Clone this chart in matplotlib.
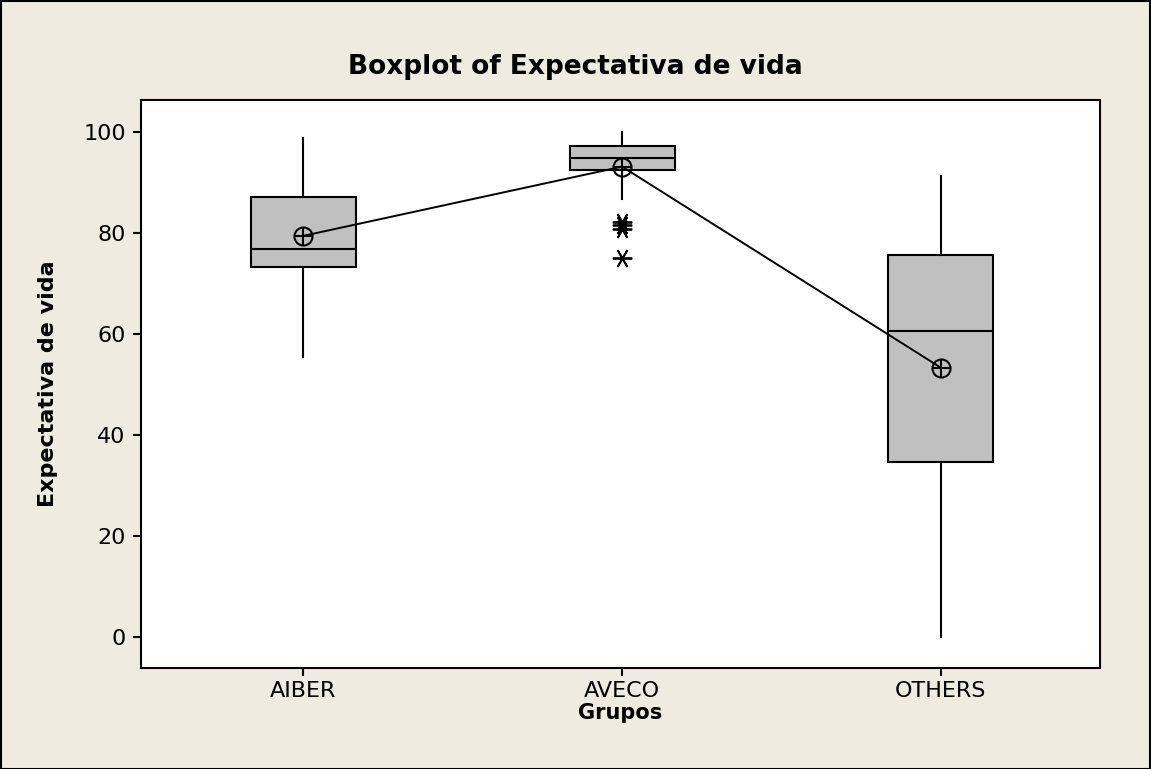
import matplotlib
matplotlib.use("Agg")
import matplotlib.pyplot as plt
from matplotlib.patches import Rectangle

groups = ["AIBER", "AVECO", "OTHERS"]
q1 = [73.3, 92.4, 34.6]
median = [76.8, 94.8, 60.6]
q3 = [87.0, 97.2, 75.6]
whisker_low = [55.3, 86.6, 0.0]
whisker_high = [98.8, 100.0, 91.3]
means = [79.4, 93.1, 53.3]
outliers = [[], [82.2, 81.5, 80.8, 75.0], []]
yticks = [0, 20, 40, 60, 80, 100]

bg = "#EFEBE1"
fig = plt.figure(figsize=(11.51, 7.69), dpi=100, facecolor=bg)
ax = fig.add_axes([141/1151, 1 - 668/769, (1100-141)/1151, (668-100)/769])
ax.set_facecolor("white")

stats = []
for i, g in enumerate(groups):
    stats.append(dict(label=g, q1=q1[i], med=median[i], q3=q3[i],
                      whislo=whisker_low[i], whishi=whisker_high[i],
                      fliers=outliers[i], mean=means[i]))

pos = list(range(1, len(groups) + 1))
ax.bxp(stats, positions=pos, widths=0.33, patch_artist=True, showcaps=False,
       showmeans=False,
       boxprops=dict(facecolor="#C0C0C0", edgecolor="black", linewidth=1.5),
       medianprops=dict(color="black", linewidth=1.5),
       whiskerprops=dict(color="black", linewidth=1.5),
       flierprops=dict(marker=(6, 2, 90), markersize=14, markeredgecolor="black",
                       markeredgewidth=1.3, linestyle="none"))

ax.plot(pos, means, color="black", linewidth=1.4, zorder=4)
ax.plot(pos, means, linestyle="none", marker="o", markersize=13,
        markerfacecolor="none", markeredgecolor="black", markeredgewidth=1.5, zorder=5)
ax.plot(pos, means, linestyle="none", marker="+", markersize=13,
        markeredgecolor="black", markeredgewidth=1.5, zorder=5)

ax.set_xlim(0.49, 3.50)
ax.set_ylim(-6.2, 106.3)
ax.set_yticks(yticks)
ax.set_xticks(pos)
ax.set_xticklabels(groups)
for s in ax.spines.values():
    s.set_linewidth(1.5)
    s.set_color("black")
ax.tick_params(direction="out", length=6, width=1.5, labelsize=16, pad=5, colors="black")
ax.tick_params(axis="x", pad=3.5)

ax.set_title("Boxplot of Expectativa de vida", fontsize=19, fontweight="bold", pad=19, x=(575-141)/(1100-141))
ax.set_xlabel("Grupos", fontsize=15, fontweight="bold", labelpad=1)
ax.set_ylabel("Expectativa de vida", fontsize=16, fontweight="bold", labelpad=18)

fig.patches.append(Rectangle((0.5/1151, 0.5/769), 1 - 1.5/1151, 1 - 1.5/769,
                             transform=fig.transFigure, fill=False,
                             edgecolor="black", linewidth=1.5))

fig.savefig("out.png", dpi=100, facecolor=bg)
